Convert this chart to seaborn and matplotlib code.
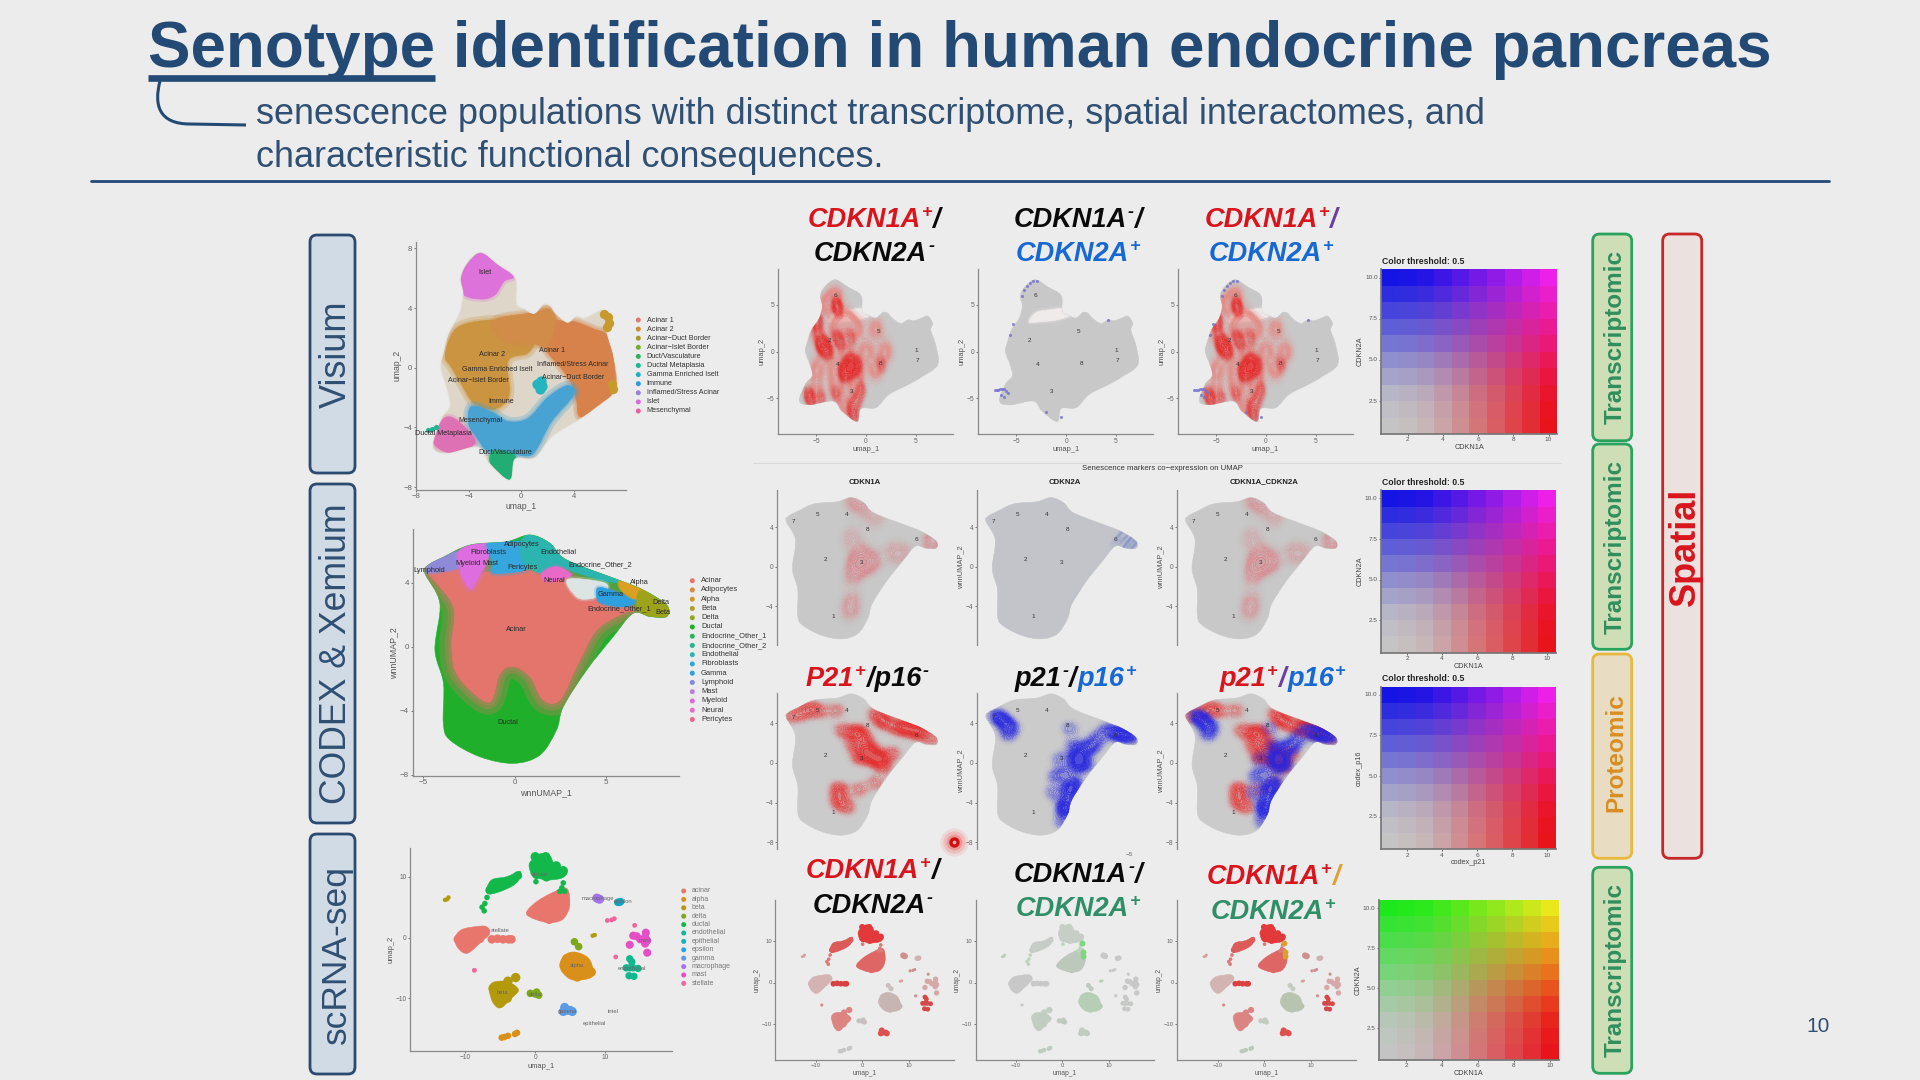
import numpy as np
import pandas as pd
import seaborn as sns
import matplotlib.pyplot as plt
from matplotlib.colors import ListedColormap, LinearSegmentedColormap, to_rgb
from matplotlib.patches import FancyBboxPatch, PathPatch
from matplotlib.path import Path

BG = "#ECECEC"
NAVY = "#234A75"
SLATE = "#2F4F73"

sns.set_theme(style="ticks")
plt.rcParams["font.family"] = ["Liberation Sans", "DejaVu Sans"]

# Visium umap, region outlines
visium_all = [(-3.1,7.7),(-4.1,7.0),(-4.6,6.0),(-4.4,4.9),(-4.7,3.6),(-5.5,2.3),(-5.9,1.0),(-6.1,0),(-5.6,-1.5),(-5.4,-2.6),(-6.1,-3.5),(-6.7,-5.3),(-5.6,-5.7),(-3.3,-5.3),(-2.4,-6.4),(-0.9,-7.5),(-0.5,-6.1),(1,-6.0),(2.3,-4.6),(4.3,-3.5),(5.6,-2.7),(7.2,-1.4),(7.0,0.7),(6.5,2.3),(6.7,3.0),(6.2,3.8),(5.6,3.6),(4.8,3.3),(4.2,3.4),(3.5,3.0),(2.6,3.6),(2.2,4.1),(1.7,4.2),(1.0,3.6),(0.2,3.9),(-0.4,4.3),(-0.5,6.0),(-1.8,6.9)]
visium_acinar2 = [(-5.8,0.8),(-5.2,2.4),(-4,3.0),(-2,3.2),(0,3.0),(1,2.0),(0.5,1.0),(-1,0.5),(-0.9,-1.5),(-1.2,-2.3),(-2.2,-2.8),(-3.6,-2.4),(-4.5,-1.2),(-5.3,0)]
visium_acinar1 = [(0,3),(1,3.6),(2.1,3.9),(2.7,3.2),(4,3.1),(5.5,2.6),(6.5,2.2),(7.0,0.7),(7.1,-1.4),(6,-2.6),(4.5,-3.3),(4.2,-2.2),(3.8,-1),(3,0),(2,1),(1.2,2)]
visium_band = [(-2,3.2),(1,3.7),(2,3.9),(2.6,3.2),(2,1.5),(1,1.6),(-0.5,1.7),(-1.5,2)]
visium_immune = [(-3.8,-2.6),(-2.2,-3),(-1,-3.6),(0.5,-3.4),(2,-2),(3.5,-1.2),(4.0,-1.8),(2.3,-3.6),(1.2,-5.4),(0.6,-5.9),(-0.6,-5.8),(-2.5,-5.6),(-3.3,-4.8),(-4,-3.8)]
visium_duct = [(-2.4,-6.3),(-2.1,-5.6),(-0.6,-5.8),(-0.5,-6.4),(-0.9,-7.5),(-1.8,-7.0)]
visium_mesen = [(-6.7,-5.0),(-6.1,-3.6),(-5.4,-3.3),(-4.4,-3.9),(-3.5,-5.0),(-4.5,-5.5),(-5.6,-5.7)]
visium_islet = [(-3.1,7.7),(-4.1,7.0),(-4.6,6.0),(-4.4,4.9),(-3,4.6),(-2,4.9),(-1.3,5.8),(-0.6,6.1),(-1.8,6.9)]
visium_gamma_x = [1.2,1.5,1.4,1.6]
visium_gamma_y = [-1.1,-0.9,-1.4,-1.2]
visium_meta_x = [-7.1,-6.8,-6.5]
visium_meta_y = [-4.15,-4.1,-4.0]
visium_tip_x = [6.3,6.6,6.7,6.5,7.0,6.9]
visium_tip_y = [3.6,3.4,3.0,2.7,-1.4,-1.1]
visium_names = ["Acinar 1","Acinar 2","Acinar−Duct Border","Acinar−Islet Border","Duct/Vasculature","Ductal Metaplasia","Gamma Enriched Iselt","Immune","Inflamed/Stress Acinar","Islet","Mesenchymal"]
visium_colors = ["#D97B72","#CD8E32","#A8982A","#75AE2E","#2FB05A","#22B594","#22AFC0","#2D9CDC","#9D7FD8","#D96AD8","#E8609F"]

# wnn umap
wnn_all = [(0.84,6.98),(1.94,6.46),(2.85,5.42),(5.78,4.13),(7.06,3.54),(8.34,2.6),(8.34,1.88),(7.42,1.88),(6.5,2.08),(5.41,0.63),(3.95,-1.46),(2.67,-3.75),(2.3,-5.2),(1.39,-6.77),(-0.07,-7.29),(-1.9,-6.88),(-3.55,-5.83),(-3.91,-4.79),(-3.9,-2.3),(-4.37,-0.2),(-4.1,2.7),(-4.92,4.58),(-4.73,5.1),(-3.9,5.6),(-2.45,6.35),(-0.44,6.56)]
wnn_acinar = [(-4.73,4.58),(-3.36,2.5),(-3.45,0.2),(-3.27,-1.46),(-2.45,-2.7),(-1.35,-3.44),(-0.8,-1.67),(-0.07,-1.25),(0.84,-1.87),(1.57,-3.33),(2.49,-3.33),(3.4,-1.25),(4.5,1.04),(5.96,2.08),(6.5,2.3),(5.41,3.1),(3.03,4.17),(1.57,4.69),(-1.35,4.69),(-2.27,4.38),(-3,4.9),(-4.7,4.9)]
wnn_lymphoid = [(-4.73,5.1),(-3.9,5.6),(-3.1,5.9),(-2.9,5.0),(-4.7,4.6)]
wnn_myeloid = [(-3.1,5.9),(-2.45,6.35),(-1.4,6.4),(-1.5,5.3),(-1.9,4.5),(-2.4,3.6),(-2.9,4.4),(-3,5)]
wnn_fibro = [(-1.5,6.45),(-0.44,6.56),(1.3,6.5),(1.2,5.6),(0.8,5),(0.3,4.7),(-1.2,4.6),(-1.2,5.3)]
wnn_endo = [(0.84,6.98),(1.94,6.46),(2.85,5.42),(5.78,4.13),(5.0,4.1),(3.2,4.7),(2.4,5.0),(1.6,4.6),(1.0,4.8),(0.4,5.5),(0.4,6.6)]
wnn_neural = [(1.5,4.6),(2.3,5.0),(3.1,4.5),(2.5,4.2),(1.7,4.1)]
wnn_speckle = [(2.9,4.2),(4.9,4.0),(5.0,3.4),(4.2,3.0),(3.4,3.1)]
wnn_gamma = [(4.6,3.7),(5.6,3.4),(6.7,2.9),(6.0,2.5),(4.8,2.7),(4.5,3.1)]
wnn_alpha = [(5.8,4.1),(7.1,3.6),(7.3,3.1),(6.5,3.0),(5.8,3.6)]
wnn_beta = [(7.0,3.5),(8.34,2.6),(8.34,1.88),(7.42,1.88),(6.8,2.3),(6.7,2.9)]
wnn_names = ["Acinar","Adipocytes","Alpha","Beta","Delta","Ductal","Endocrine_Other_1","Endocrine_Other_2","Endothelial","Fibroblasts","Gamma","Lymphoid","Mast","Myeloid","Neural","Pericytes"]
wnn_colors = ["#E3756C","#D98A3A","#CD9A26","#ADA024","#8FA81E","#1FAF2A","#25B45F","#25B58A","#2CB5B0","#2BAAD8","#2E9FDF","#8088E0","#B87FE0","#D96AE0","#E66AC4","#E8668F"]

# scRNA umap, one list of points per cluster and outlines for the big ones
sc_points = {
    "acinar_left": ([-10.5,-9.5,-10,-9,-8.2,-7.3,-8,-9.2,-11], [-0.5,-0.7,-1.6,0.3,0.8,1,-0.2,-1,-0.3]),
    "acinar": ([0,1,2,3,1,2,3,4,4.3,2.2,3.4], [4.2,3.5,3,3.8,5,5.5,6,6.8,5.5,4.5,4.7]),
    "acinar_tail": ([-6.2,-5.4,-4.6,-3.8,-3.4], [-0.3,-0.2,-0.3,-0.3,-0.3]),
    "ductal": ([0,1.5,0,1.5,3,4,0.2,1.6,3], [13.3,13.3,12,12,11.8,11,10.4,10,10.6]),
    "ductal_left": ([-6.5,-6,-5,-4,-3,-2.5], [7.8,8.8,9,9.3,9.6,10.2]),
    "ductal_small": ([-7.6,-7.3,-7.2,4.0,3.8,4.2,-6.9,3.5,0.1], [5.0,4.4,5.6,9.0,8.2,7.6,6.6,7.6,9.2]),
    "alpha": ([4.5,6,7.3,5,6.5,8,6,4.6,5.5], [-3.5,-3.5,-4.5,-5,-5.5,-5.7,-6.5,-4.5,-4.6]),
    "alpha_small": ([-4.8,-4.4,-3.9,-2.9,-2.6], [-16.5,-16.4,-16.2,-15.9,-15.7]),
    "beta": ([-5.7,-5.5,-4.5,-3.5,-5,-4,-2.8,-3.9,-5.4], [-8.2,-9.5,-8.6,-8.4,-10.8,-10,-6.6,-7.2,-10.2]),
    "beta_small": ([-12.6,-12.4,-12.9,8.2,8.5], [6.3,6.6,6.2,0.3,0.4]),
    "delta": ([0,0.5,-0.7,0.2,5.6,6.2], [-9.3,-9.5,-9.2,-9.0,-0.7,-1.5]),
    "endothelial": ([13.5,14,13.4,13.5,13.8,14.1,13.0,14.7], [-5,-5,-6.3,-3.5,-4,-6.4,-5,-5.1]),
    "epithelial": ([12,11.8,12.2], [5.8,5.8,5.9]),
    "gamma": ([4.5,4.2,5,4.0,5.3], [-12,-11.5,-12,-12.2,-12.2]),
    "macrophage": ([9,8.8,9.2], [6.4,6.5,6.3]),
    "mast": ([15.7,15.8,15.7,16,14.5,13.5,16,15,14], [0,0.8,-1,-2.5,0.2,-1.2,-0.5,-0.3,0.3]),
    "stellate": ([10.3,10.9,11.3,14.2,11.5,-8.7], [2.8,2.9,3.1,2,-3.2,-5.4]),
}
sc_blobs = {
    "acinar_left": [(-11.5,-0.1),(-10.5,1.3),(-8.4,1.8),(-7,1.8),(-6.5,0.7),(-7.9,-0.9),(-9.7,-2.6),(-11,-1.8)],
    "acinar": [(-1.2,4.3),(0.2,5.9),(2.3,7.3),(4.5,8.1),(4.9,5.1),(3.8,2.9),(1.6,2.5),(-0.8,3.4)],
    "ductal": [(-0.8,12.3),(0.7,13.8),(2.1,13.4),(2.8,12),(4.5,10.9),(3.8,9.8),(1.6,9.5),(-0.3,10.1),(-0.7,10.9)],
    "ductal_left": [(-7,7.6),(-6.2,9.5),(-4.1,10),(-2.2,10.9),(-2.4,9.5),(-3.4,8.4),(-5.8,7.3)],
    "alpha": [(3.5,-4.5),(4.2,-2.9),(5.7,-2.4),(7.6,-3.4),(8.3,-5.6),(7.8,-6.7),(5.4,-7),(4,-5.9)],
    "beta": [(-6.6,-8.1),(-5.8,-7.3),(-3.9,-7.3),(-2.4,-8.6),(-3.4,-10),(-5,-11.6),(-6,-10.8),(-6.5,-9.2)],
}
sc_sizes = {"acinar_left":46,"acinar":46,"acinar_tail":38,"ductal":46,"ductal_left":40,"ductal_small":16,"alpha":46,"alpha_small":22,"beta":46,"beta_small":10,
            "delta":30,"endothelial":28,"epithelial":30,"gamma":42,"macrophage":42,"mast":34,"stellate":12}
sc_names = ["acinar","alpha","beta","delta","ductal","endothelial","epithelial","epsilon","gamma","macrophage","mast","stellate"]
sc_legend_colors = ["#E8766D","#D9901A","#B39A0C","#7CA81A","#12B84A","#10B88E","#10B5BE","#20A8E0","#5B9BE6","#A673F0","#E64EC8","#F2659A"]
sc_main = {"acinar_left":"#E8766D","acinar":"#E8766D","acinar_tail":"#E8766D","ductal":"#12B84A","ductal_left":"#12B84A","ductal_small":"#12B84A","alpha":"#D9901A","alpha_small":"#D9901A",
           "beta":"#B39A0C","beta_small":"#B39A0C","delta":"#7CA81A","endothelial":"#10B88E","epithelial":"#10A5BE","gamma":"#5B9BE6",
           "macrophage":"#A673F0","mast":"#E64EC8","stellate":"#F2659A"}
sc_red = {"acinar_left":"#D3B4B2","acinar":"#DE6664","acinar_tail":"#D94040","ductal":"#E23A3A","ductal_left":"#DC5A58","ductal_small":"#DD7A76","alpha":"#C6B5B2","alpha_small":"#C6C6C6",
          "beta":"#DC8482","beta_small":"#D8A0A0","delta":"#C8C0BE","endothelial":"#D64848","epithelial":"#D0B0B0","gamma":"#DD5050",
          "macrophage":"#D09090","mast":"#D6A8A8","stellate":"#D09090"}
sc_green = {"acinar_left":"#C8C8C8","acinar":"#BBC8BB","acinar_tail":"#C8C8C8","ductal":"#C6CEC6","ductal_left":"#C8CCC8","ductal_small":"#BCD6BC","alpha":"#B6CEB6","alpha_small":"#BCCFBC",
            "beta":"#C0CDC0","beta_small":"#B8D0B8","delta":"#BFCABF","endothelial":"#C6C9C6","epithelial":"#C8C8C8","gamma":"#C2CCC2",
            "macrophage":"#C8C8C8","mast":"#C8C8C8","stellate":"#C8C8C8"}
sc_both = dict(sc_red, alpha="#B9C4B0", delta="#C4CBBF", alpha_small="#BCC8BC")

# feature plots, spots where the marker is strong
visium_gap = [(-3.7,3.2),(-3,4.2),(-1.5,4.5),(-0.4,4.6),(0.6,4.0),(-0.9,3.4),(-2.6,3.2)]
cdkn1a_x = [-4.5,-4,-3,-2.5,-1.5,-2.3,-1.5,-0.8,-1.8,-1.2,1.5,-4.5,-5.5,-1.5,-1.2,-3,-0.5,-4.8,-3,-2.8,-5,-5.8,-0.9,-3.8,-4.6,-2.2,-1.6]
cdkn1a_y = [0.5,0.7,1.5,1.0,1.5,-2.5,-1.5,-1.2,-2,-1.8,-1.3,-5,-5.2,-6,-7,-4.5,-4,3.5,5,4.6,2.8,-4.6,-5.2,-0.1,1.0,-2.0,-1.1]
cdkn1a_wide_x = [-5,-3,-1,1,-4,-2,0,2,-5,-3,-1,1,-5,-3,-1,-2,-4,-3,-2]
cdkn1a_wide_y = [2,2.5,2.5,2.5,0,0,0,0,-2,-2,-2,-2,-4.5,-4,-4,-6,5,6,3.5]
cdkn2a_x = [-7.2,-7,-6.8,-6.6,-6.4,-6.2,-6.0,-5.8,-6.5,-6.2,-4.4,-4.2,-3.9,-3.6,-3.3,-2.9,-5.3,-5.6,-0.5,-2.0,4.2]
cdkn2a_y = [-4.15,-4.1,-4.15,-4.05,-4.05,-4.0,-4.2,-4.4,-4.7,-4.9,6.0,6.6,7.0,7.3,7.55,7.6,3.0,1.8,-7.0,-6.5,3.4]
visium_num = [("6",-3.08,6),("5",1.27,2.2),("2",-3.65,1.14),("1",5.04,0.07),("7",5.2,-1),("4",-2.85,-1.39),("8",1.5,-1.29),("3",-1.42,-4.29)]
wnn_num = [("7",-4.28,4.61),("5",-2.12,5.29),("4",0.44,5.32),("8",2.29,3.77),("6",6.57,2.79),("2",-1.41,0.77),("3",1.72,0.44),("1",-0.74,-5.05)]

rna_x = [1.0,1.6,2.2,3.0,0.8,1.5,1.6,1.2,1.0,0.8,4.5,5.5,0.8,8.2,7.9,2.2,2.8]
rna_y = [6.9,6.7,6.1,5.0,3.0,1.5,0.4,0.2,-1,-3.5,1.5,1.2,-4.5,2.5,2.8,0.4,0.5]
rna2_x = [8.0,7.8,8.1,7.4,7.0,3.7]
rna2_y = [2.8,2.4,2.2,3.1,3.2,-2.5]
p21_x = [0,1,2,2.5,1.5,2.5,3.5,1,-0.2,-0.3,0.5,-0.3,4,5,3,6,-3.5,-2,-4.5,-0.5,7,8,4.5,3.7,3,2,1.5,3.2,1.5,5.5,3.5,-2.8,6.8]
p21_y = [3.3,3,2.5,1.5,0.5,0.5,0.5,1.8,-3.2,-4,-4.5,-2.5,4,3.5,5,3.3,5,5.2,4.7,5.3,3,2.5,1,-0.5,-2,1.3,3.2,0.4,-2.7,3.8,4.4,5.6,3.4]
p16_x = [-3.6,-3.2,-4,2.5,3,3.5,4,3,3,2.5,2.2,1.8,2,4,2.8,6.5,7.5,3.3,2.6,2.2,4.6,5,5.8,2.4,1.6,1.2,1.0,2,7,8,-2.6,-3.0]
p16_y = [4.5,4,4.8,3.5,0.5,1,1.5,-0.5,-2,-3.5,-5,-6,-1,-0.2,1.8,3,3,0.2,-2.4,-4.2,1.8,2.6,3.4,-2.8,0.4,-1.4,-3,-4.6,2.8,2.6,3.6,2.8]

# colour keys
key_steps = [0,0.03,0.08,0.18,0.30,0.45,0.58,0.72,0.86,1]
key_gray, key_red, key_blue, key_magenta = "#C4C4C4", "#E8141C", "#1414E4", "#EC20E8"
key_green, key_yellow = "#1CE81C", "#E8E81C"

# text
visium_labels = [("Islet",485,272),("Acinar 2",491.7,354),("Acinar 1",551.7,350),("Inflamed/Stress Acinar",572.3,364.7),("Gamma Enriched Iselt",497.7,369.3),("Acinar−Islet Border",478.3,380),("Acinar−Duct Border",572.7,377.3),("Immune",501,401.7),("Mesenchymal",480,420.7),("Ductal Metaplasia",443.3,433.7),("Duct/Vasculature",505,452.3)]
wnn_labels = [("Adipocytes",521.7,544),("Fibroblasts",488.3,553),("Endothelial",558.3,552.7),("Endocrine_Other_2",600,564.3),("Lymphoid",429.3,570),("Myeloid",467.7,563.7),("Mast",490.7,563.7),("Pericytes",522.7,567.3),("Neural",554.3,580.3),("Alpha",639.3,583),("Gamma",610.7,594.7),("Delta",660.7,602),("Endocrine_Other_1",618.7,608.3),("Beta",663.3,613),("Acinar",516,629.3),("Ductal",508,723)]
sc_labels = [("alpha",576.7,966),("beta",502.3,992.3),("stellate",500,930),("ductal",540,874),("macrophage",598,898.7),("epsilon",623,902),("mast",645,940),("endothelial",631.7,968.3),("delta",535,994),("gamma",567.3,1012),("intel",613,1011.5),("epithelial",594,1023.7)]

R, K, B, G = "#D9141C", "#0A0A0A", "#1668D2", "#2F8F68"
PUR, GOLD = "#6A3FA0", "#E0A030"


def blob(xy):
    # closed smooth outline passing through the read points
    p = np.array(xy, dtype=float)
    n = len(p)
    verts = [p[0]]
    codes = [Path.MOVETO]
    for i in range(n):
        a, b, c, d = p[i - 1], p[i], p[(i + 1) % n], p[(i + 2) % n]
        verts += [b + (c - a) / 6, c - (d - b) / 6, c]
        codes += [Path.CURVE4] * 3
    return Path(verts, codes)


def fill(ax, xy, color, z=2, soft=(), alpha=1, clip=None):
    for lw in soft:
        halo = PathPatch(blob(xy), fc=color, ec=color, lw=lw, alpha=0.28, zorder=z)
        ax.add_patch(halo)
        if clip is not None:
            halo.set_clip_path(clip)
    patch = PathPatch(blob(xy), fc=color, ec=color, lw=0.4, alpha=alpha, zorder=z)
    ax.add_patch(patch)
    if clip is not None:
        patch.set_clip_path(clip)
    return patch


def panel(l, t, r, b, xlim, ylim, xticks=(), yticks=(), xlabel=None, ylabel=None, bottom=True, size=4.8):
    ax = fig.add_axes([l / W, 1 - b / H, (r - l) / W, (b - t) / H])
    ax.patch.set_alpha(0)
    ax.set_xticks(list(xticks))
    ax.set_yticks(list(yticks))
    ax.tick_params(length=1.5, width=0.6, labelsize=size, colors="#666666", pad=1)
    ax.set_xlim(xlim)
    ax.set_ylim(ylim)
    ax.set_xlabel(xlabel or "", fontsize=size + 0.6, color="#555555", labelpad=1)
    ax.set_ylabel(ylabel or "", fontsize=size + 0.6, color="#555555", labelpad=1)
    sns.despine(ax=ax, bottom=not bottom)
    for s in ("left", "bottom"):
        ax.spines[s].set_color("#8A8A8A")
        ax.spines[s].set_linewidth(0.9)
    return ax


def fix(ax, xlim, ylim, xlabel=None, ylabel=None):
    ax.set_xlim(xlim)
    ax.set_ylim(ylim)
    ax.set_xlabel(xlabel or "")
    ax.set_ylabel(ylabel or "")


def glow(ax, x, y, cmap, clip, bw=0.4, z=3, thresh=0.04):
    n = len(ax.collections)
    sns.kdeplot(x=x, y=y, fill=True, cmap=cmap, levels=24, thresh=thresh, bw_adjust=bw, gridsize=160, antialiased=False, ax=ax, zorder=z)
    for c in ax.collections[n:]:
        c.set_clip_path(clip)


def ramp(color, top=0.9):
    c = to_rgb(color)
    return LinearSegmentedColormap.from_list("r", [c + (0.0,), c + (top,)])


def numbers(ax, items):
    for s, x, y in items:
        ax.text(x, y, s, fontsize=4.6, color="#333333", ha="center", va="center", zorder=6)


def rich(cx, y, parts, size=19.5):
    renderer = fig.canvas.get_renderer()
    items = []
    total = 0
    for txt, color, sup in parts:
        fs = size * 0.66 if sup else size
        t = top.text(0, y - (size * 0.52 if sup else 0), txt, fontsize=fs, color=color, fontweight="bold", fontstyle="italic", va="baseline", ha="left", zorder=8)
        w = t.get_window_extent(renderer).width + 1
        items.append((t, w))
        total += w
    x = cx - total / 2
    for t, w in items:
        t.set_x(x)
        x += w


def legend_dots(x_dot, x_text, y0, step, names, colors, size=5.2, tcolor="#333333"):
    ys = [y0 + step * i for i in range(len(names))]
    sns.scatterplot(x=[x_dot] * len(names), y=ys, hue=names, palette=dict(zip(names, colors)), s=13, linewidth=0, legend=False, ax=top, zorder=5)
    for n, yy in zip(names, ys):
        top.text(x_text, yy, n, fontsize=size, color=tcolor, va="center", ha="left")


def side_box(x0, y0, x1, y1, face, edge, text=None, color=None, size=17.5, weight="bold", cy=None):
    top.add_patch(FancyBboxPatch((x0 + 6, y0 + 6), x1 - x0 - 12, y1 - y0 - 12, boxstyle="round,pad=6,rounding_size=7", fc=face, ec=edge, lw=2.0, zorder=2))
    if text:
        top.text((x0 + x1) / 2 + 3.5, cy or (y0 + y1) / 2, text, rotation=90, fontsize=size, color=color, fontweight=weight, ha="center", va="center", zorder=3)


def colour_key(l, t, r, b, c00, c10, c01, c11, xlabel, ylabel, title=None):
    ax = fig.add_axes([l / W, 1 - b / H, (r - l) / W, (b - t) / H])
    c00, c10, c01, c11 = [np.array(to_rgb(c)) for c in (c00, c10, c01, c11)]
    cells = []
    for v in key_steps[::-1]:
        for u in key_steps:
            cells.append((1 - u) * (1 - v) * c00 + u * (1 - v) * c10 + (1 - u) * v * c01 + u * v * c11)
    grid = np.arange(100).reshape(10, 10)
    sns.heatmap(grid, cmap=ListedColormap(cells), vmin=-0.5, vmax=99.5, cbar=False, ax=ax, linewidths=0, rasterized=True)
    ax.set_xticks([1.5, 3.5, 5.5, 7.5, 9.5], ["2", "4", "6", "8", "10"], rotation=0)
    ax.set_yticks([0.5, 3, 5.5, 8], ["10.0", "7.5", "5.0", "2.5"], rotation=0)
    ax.tick_params(length=1.5, width=0.6, labelsize=4.6, colors="#555555", pad=1)
    ax.set_xlabel(xlabel, fontsize=5.2, color="#444444", labelpad=1)
    ax.set_ylabel(ylabel, fontsize=5.2, color="#444444", labelpad=1)
    for s in ("left", "bottom"):
        ax.spines[s].set_visible(True)
        ax.spines[s].set_color("#777777")
    if title:
        top.text(l + 1, t - 8, title, fontsize=6.2, fontweight="bold", color="#222222", va="center", ha="left")


def sc_scatter(ax, palette, scale=1.0):
    for name, xy in sc_blobs.items():
        fill(ax, xy, palette[name], 2)
    sns.scatterplot(data=sc, x="x", y="y", hue="cluster", palette=palette, size="cluster",
                    sizes={k: v * scale for k, v in sc_sizes.items()}, linewidth=0, legend=False, ax=ax, zorder=2)


W, H = 1920, 1080
fig = plt.figure(figsize=(19.2, 10.8), dpi=100, facecolor=BG)
top = fig.add_axes([0, 0, 1, 1], zorder=10)
top.set_xlim(0, W)
top.set_ylim(H, 0)
top.axis("off")
top.patch.set_alpha(0)

sc = pd.concat([pd.DataFrame({"x": v[0], "y": v[1], "cluster": k}) for k, v in sc_points.items()], ignore_index=True)

# header
top.text(148, 66.7, "Senotype identification in human endocrine pancreas", fontsize=45.9, fontweight="bold", color=NAVY, va="baseline")
top.plot([148, 434.7], [77.5, 77.5], color=NAVY, lw=4.8, solid_capstyle="butt")
top.text(256, 124, "senescence populations with distinct transcriptome, spatial interactomes, and", fontsize=25.95, color=SLATE, va="baseline")
top.text(256, 167, "characteristic functional consequences.", fontsize=25.95, color=SLATE, va="baseline")
top.add_patch(PathPatch(Path([(160, 81), (154, 104), (158, 124), (190, 124), (246, 125)], [Path.MOVETO, Path.CURVE4, Path.CURVE4, Path.CURVE4, Path.LINETO]), fc="none", ec=NAVY, lw=2.2))
top.plot([91, 1829], [180.7, 180.7], color=NAVY, lw=2.0)
top.text(1818, 1026.7, "10", fontsize=15, color=SLATE, ha="center", va="center")
top.plot([753, 1561], [463, 463], color="#DADADA", lw=0.8)

# left labels
side_box(310, 235, 355, 473, "#D0DBE5", "#2A4A70", "Visium", SLATE, 26, "normal")
side_box(310, 484, 355, 823, "#D0DBE5", "#2A4A70", "CODEX & Xemium", SLATE, 25.7, "normal")
side_box(310, 834, 355, 1074, "#D0DBE5", "#2A4A70", "scRNA-seq", SLATE, 25.5, "normal")

# right labels
side_box(1592.7, 234, 1631.7, 440.7, "#CEDFB8", "#2AA35F", "Transcriptomic", "#2F8F5B")
side_box(1592.7, 444, 1631.7, 649.3, "#CEDFB8", "#2AA35F", "Transcriptomic", "#2F8F5B")
side_box(1592.7, 654, 1631.7, 858.3, "#E8DCC3", "#E8B93C", "Proteomic", "#D98E20", cy=753)
side_box(1592.7, 867.3, 1631.7, 1073.3, "#CEDFB8", "#2AA35F", "Transcriptomic", "#2F8F5B")
side_box(1662.7, 234, 1701.7, 858.3, "#EBE1DE", "#C62828", "Spatial", "#D9141C", 26, cy=547)

# Visium umap
xl, yl = (-8.05, 7.95), (-8.2, 8.45)
ax = panel(415.7, 241.7, 625.7, 490, xl, yl, [-8, -4, 0, 4], [-8, -4, 0, 4, 8], "umap_1", "umap_2", size=5.6)
vb = fill(ax, visium_all, "#DED6C8", 2, soft=(2,))
fill(ax, visium_acinar2, "#CB9440", 3, soft=(7, 3), clip=vb)
fill(ax, visium_acinar1, "#D8824B", 3, soft=(6, 3), clip=vb)
fill(ax, visium_band, "#D08C48", 3, soft=(6, 3), clip=vb)
fill(ax, visium_immune, "#48A2D2", 3, soft=(7, 3), clip=vb)
fill(ax, visium_duct, "#22AD74", 4, soft=(3,), clip=vb)
fill(ax, visium_mesen, "#DE70B4", 3, soft=(4,), clip=vb)
fill(ax, visium_islet, "#DC72DA", 3, soft=(4,), clip=vb)
sns.scatterplot(x=visium_gamma_x, y=visium_gamma_y, color="#25B5C0", s=55, linewidth=0, ax=ax, zorder=5)
sns.scatterplot(x=visium_meta_x, y=visium_meta_y, color="#22B594", s=14, linewidth=0, ax=ax, zorder=5)
sns.scatterplot(x=visium_tip_x, y=visium_tip_y, color="#C79A2E", s=45, linewidth=0, ax=ax, zorder=5)
fix(ax, xl, yl, "umap_1", "umap_2")
legend_dots(638.3, 646.7, 320, 9.1, visium_names, visium_colors)
for s, x, y in visium_labels:
    top.text(x, y, s, fontsize=5.1, color="#2A2A2A", ha="center", va="center", zorder=6)

# wnn umap
xl, yl = (-5.59, 9.03), (-8.08, 7.33)
ax = panel(412.7, 529.3, 679.3, 776, xl, yl, [-5, 0, 5], [-8, -4, 0, 4], "wnnUMAP_1", "wnnUMAP_2", size=5.8)
wb = fill(ax, wnn_all, "#1FAF2A", 2)
fill(ax, wnn_acinar, "#E3756C", 3, soft=(18, 10, 5), clip=wb)
fill(ax, wnn_lymphoid, "#8E8AD8", 4, soft=(3,), clip=wb)
fill(ax, wnn_myeloid, "#DE6EE0", 4, soft=(5,), clip=wb)
fill(ax, wnn_fibro, "#35A7DE", 5, soft=(4,), clip=wb)
fill(ax, wnn_endo, "#2CB5B0", 5, soft=(3,), clip=wb)
fill(ax, wnn_neural, "#E76AC9", 6, soft=(3,), clip=wb)
fill(ax, wnn_speckle, "#DCE4E4", 6, soft=(3,), clip=wb)
fill(ax, wnn_gamma, "#2E9FDF", 7, soft=(3,), clip=wb)
fill(ax, wnn_alpha, "#D9A024", 7, soft=(2,), clip=wb)
fill(ax, wnn_beta, "#9EA31C", 7, soft=(2,), clip=wb)
legend_dots(692.3, 701, 580.7, 9.25, wnn_names, wnn_colors, 5.4)
for s, x, y in wnn_labels:
    top.text(x, y, s, fontsize=5.3, color="#2A2A2A", ha="center", va="center", zorder=6)

# scRNA umap
xl, yl = (-17.9, 19.5), (-18.7, 14.7)
ax = panel(410, 848.3, 671.7, 1051, xl, yl, [-10, 0, 10], [-10, 0, 10], "umap_1", "umap_2", size=4.8)
sc_scatter(ax, sc_main)
fix(ax, xl, yl, "umap_1", "umap_2")
legend_dots(683.7, 691.7, 891, 8.4, sc_names, sc_legend_colors, 5.0, "#777777")
for s, x, y in sc_labels:
    top.text(x, y, s, fontsize=4.2, color="#666666", ha="center", va="center", zorder=6)

# row 1, Visium features
cols = [(778, 953.3), (978.1, 1153.4), (1177.9, 1353.2)]
for i, (l, r) in enumerate(cols):
    xl, yl = (-8.85, 8.77), (-8.86, 8.82)
    ax = panel(l, 269.3, r, 434.3, xl, yl, [-5, 0, 5], [-5, 0, 5], "umap_1", "umap_2")
    base = fill(ax, visium_all, "#C8C8C8", 2)
    fill(ax, visium_gap, "#EFEBEB", 2.5, soft=(3,), clip=base)
    if i != 1:
        glow(ax, cdkn1a_wide_x, cdkn1a_wide_y, ramp("#E58A85", 0.6), base, bw=0.5, z=2.7)
        glow(ax, cdkn1a_x, cdkn1a_y, ramp("#E51A1A", 0.72), base, bw=0.38)
    if i != 0:
        sns.scatterplot(x=cdkn2a_x, y=cdkn2a_y, color="#7070D0", s=5, alpha=0.8, linewidth=0, ax=ax, zorder=3.2)
    fix(ax, xl, yl, "umap_1", "umap_2")
    numbers(ax, visium_num)

# row 2, wnn transcripts
rows = [(777.2, 952.2), (977, 1152), (1176.8, 1351.8)]
titles = ["CDKN1A", "CDKN2A", "CDKN1A_CDKN2A"]
for i, (l, r) in enumerate(rows):
    xl, yl = (-5.72, 9.76), (-7.91, 7.75)
    ax = panel(l, 490, r, 645, xl, yl, [], [-8, -4, 0, 4], None, None if i == 0 else "wnnUMAP_2", bottom=False)
    base = fill(ax, wnn_all, "#C8C8C8" if i != 1 else "#C2C4CA", 2)
    if i != 1:
        glow(ax, rna_x, rna_y, ramp("#E8505A", 0.34), base, bw=0.42)
    else:
        glow(ax, rna2_x, rna2_y, ramp("#8090C8", 0.35), base, bw=0.45)
    fix(ax, xl, yl, None, None if i == 0 else "wnnUMAP_2")
    numbers(ax, wnn_num)
    top.text((l + r) / 2, 482, titles[i], fontsize=5.6, fontweight="bold", color="#222222", ha="center", va="center")
top.text(1162.6, 469, "Senescence markers co−expression on UMAP", fontsize=5.6, color="#333333", ha="center", va="center")

# row 3, wnn proteins
for i, (l, r) in enumerate(rows):
    xl, yl = (-5.72, 9.76), (-8.72, 7.07)
    ax = panel(l, 693, r, 849.3, xl, yl, [], [-8, -4, 0, 4], None, None if i == 0 else "wnnUMAP_2", bottom=False)
    base = fill(ax, wnn_all, "#CBCBCB", 2)
    if i != 1:
        glow(ax, p21_x, p21_y, ramp("#E82020", 0.7), base, bw=0.36)
    if i != 0:
        glow(ax, p16_x, p16_y, ramp("#2424E0", 0.82), base, bw=0.34, z=3.2)
    fix(ax, xl, yl, None, None if i == 0 else "wnnUMAP_2")
    numbers(ax, wnn_num)
top.text(1129, 855, "−5", fontsize=4.6, color="#666666", ha="center", va="center")

# row 4, scRNA features
lims4 = [(775.3, 954), (975.5, 1154.2), (1177.1, 1355.9)]
pals = [sc_red, sc_green, sc_both]
for i, (l, r) in enumerate(lims4):
    xl, yl = (-18.7, 19.75), (-18.6, 19.8)
    ax = panel(l, 900, r, 1060, xl, yl, [-10, 0, 10], [-10, 0, 10], "umap_1", "umap_2", size=4.2)
    sc_scatter(ax, pals[i], 0.44)
    spot = {1: "#7CD87C", 2: "#D8A030"}.get(i)
    if spot:
        sns.scatterplot(x=[4.4, 4.4, 4.3], y=[6.4, 7.4, 9.4], color=spot, s=18, linewidth=0, ax=ax, zorder=3)
    fix(ax, xl, yl, "umap_1", "umap_2")

# headers
rich(874.4, 226.7, [("CDKN1A", R, 0), ("+", R, 1), ("/", K, 0)])
rich(874.4, 261, [("CDKN2A", K, 0), ("-", K, 1)])
rich(1078.4, 226.7, [("CDKN1A", K, 0), ("-", K, 1), ("/", K, 0)])
rich(1078.4, 261, [("CDKN2A", B, 0), ("+", B, 1)])
rich(1271.3, 226.7, [("CDKN1A", R, 0), ("+", R, 1), ("/", PUR, 0)])
rich(1271.3, 261, [("CDKN2A", B, 0), ("+", B, 1)])
rich(867.5, 686, [("P21", R, 0), ("+", R, 1), ("/p16", K, 0), ("-", K, 1)])
rich(1075.7, 686, [("p21", K, 0), ("-", K, 1), ("/", K, 0), ("p16", B, 0), ("+", B, 1)])
rich(1283, 686, [("p21", R, 0), ("+", R, 1), ("/", PUR, 0), ("p16", B, 0), ("+", B, 1)])
rich(872.9, 878.3, [("CDKN1A", R, 0), ("+", R, 1), ("/", K, 0)])
rich(872.9, 912.7, [("CDKN2A", K, 0), ("-", K, 1)])
rich(1078.8, 881.7, [("CDKN1A", K, 0), ("-", K, 1), ("/", K, 0)])
rich(1078.8, 915.7, [("CDKN2A", G, 0), ("+", G, 1)])
rich(1274, 884.3, [("CDKN1A", R, 0), ("+", R, 1), ("/", GOLD, 0)])
rich(1274, 919, [("CDKN2A", G, 0), ("+", G, 1)])

# colour keys
colour_key(1381.3, 269.3, 1557.3, 434, key_gray, key_red, key_blue, key_magenta, "CDKN1A", "CDKN2A", "Color threshold: 0.5")
colour_key(1380.7, 490.3, 1556, 652.7, key_gray, key_red, key_blue, key_magenta, "CDKN1A", "CDKN2A", "Color threshold: 0.5")
colour_key(1380.7, 686.7, 1556, 849.3, key_gray, key_red, key_blue, key_magenta, "codex_p21", "codex_p16", "Color threshold: 0.5")
colour_key(1379, 900.3, 1558.7, 1060, key_gray, key_red, key_green, key_yellow, "CDKN1A", "CDKN2A")

# pointer dot from the recording
for s, a in [(420, 0.10), (260, 0.18), (130, 0.3)]:
    sns.scatterplot(x=[954], y=[841.7], color="#F04040", s=s, alpha=a, linewidth=0, ax=top, zorder=9, legend=False)
sns.scatterplot(x=[954], y=[841.7], color="#F4B0B0", s=26, edgecolor="#D01010", linewidth=2.4, ax=top, zorder=9, legend=False)
top.set_xlim(0, W)
top.set_ylim(H, 0)
top.set_xlabel("")
top.set_ylabel("")

fig.savefig("out.png", dpi=100, facecolor=BG)
